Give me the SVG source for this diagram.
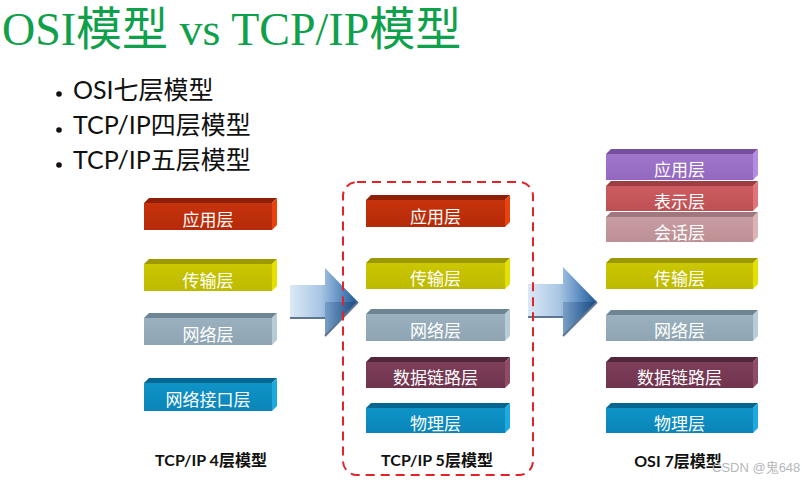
<svg xmlns="http://www.w3.org/2000/svg" width="802" height="482" viewBox="0 0 802 482">
<style>
.title{font-family:"Liberation Serif","Noto Sans CJK SC",serif;font-size:46px;fill:#0fa04c;}
.bul{font-family:"Lato","Noto Sans CJK SC",sans-serif;font-size:25px;fill:#111;}
.dot{fill:#111;}
.lbl{font-family:"Noto Sans CJK SC",sans-serif;font-size:17px;fill:#fff;text-anchor:middle;dominant-baseline:central;}
.cap{font-family:"Lato","Noto Sans CJK SC",sans-serif;font-size:16px;font-weight:bold;fill:#111;text-anchor:middle;}
.wm{font-family:"Liberation Sans","Noto Sans CJK SC",sans-serif;font-size:13px;fill:#b8b8b8;}
.red .f{fill:url(#gRed)} .red .t{fill:#8c1f06} .red .s{fill:#e8420f}
.yel .f{fill:url(#gYel)} .yel .t{fill:#9c9800} .yel .s{fill:#e4e000}
.gry .f{fill:url(#gGry)} .gry .t{fill:#6e8594} .gry .s{fill:#b8ccd8}
.blu .f{fill:url(#gBlu)} .blu .t{fill:#05678f} .blu .s{fill:#1eaade}
.mar .f{fill:url(#gMar)} .mar .t{fill:#52263b} .mar .s{fill:#8e4c68}
.pur .f{fill:url(#gPur)} .pur .t{fill:#76509e} .pur .s{fill:#b48ce0}
.pnk .f{fill:url(#gPnk)} .pnk .t{fill:#9c3e42} .pnk .s{fill:#e07478}
.ros .f{fill:url(#gRos)} .ros .t{fill:#9e787c} .ros .s{fill:#dcb2b6}
.arrow{fill:url(#gArr);}
.lower{fill:url(#gArrD);}
.shade{fill:none;stroke:#5f7690;stroke-width:2;}
.dash{fill:none;stroke:#e0242a;stroke-width:2;stroke-dasharray:9 6;}
</style>
<defs>
<linearGradient id="gRed" x1="0" y1="0" x2="0" y2="1"><stop offset="0" stop-color="#c6330d"/><stop offset="1" stop-color="#b52a08"/></linearGradient>
<linearGradient id="gYel" x1="0" y1="0" x2="0" y2="1"><stop offset="0" stop-color="#cbc700"/><stop offset="1" stop-color="#bdb900"/></linearGradient>
<linearGradient id="gGry" x1="0" y1="0" x2="0" y2="1"><stop offset="0" stop-color="#9cb1bf"/><stop offset="1" stop-color="#8ea4b3"/></linearGradient>
<linearGradient id="gBlu" x1="0" y1="0" x2="0" y2="1"><stop offset="0" stop-color="#0f94c8"/><stop offset="1" stop-color="#0a84b8"/></linearGradient>
<linearGradient id="gMar" x1="0" y1="0" x2="0" y2="1"><stop offset="0" stop-color="#7e3e5a"/><stop offset="1" stop-color="#70334e"/></linearGradient>
<linearGradient id="gPur" x1="0" y1="0" x2="0" y2="1"><stop offset="0" stop-color="#a077cc"/><stop offset="1" stop-color="#9268c0"/></linearGradient>
<linearGradient id="gPnk" x1="0" y1="0" x2="0" y2="1"><stop offset="0" stop-color="#cc5c60"/><stop offset="1" stop-color="#be5054"/></linearGradient>
<linearGradient id="gRos" x1="0" y1="0" x2="0" y2="1"><stop offset="0" stop-color="#c89ca0"/><stop offset="1" stop-color="#bc9094"/></linearGradient>
<linearGradient id="gArr" x1="0" y1="0" x2="1" y2="0"><stop offset="0" stop-color="#dce9f6"/><stop offset="0.45" stop-color="#a9c6e4"/><stop offset="0.75" stop-color="#5c8cc0"/><stop offset="1" stop-color="#1d5594"/></linearGradient>
<linearGradient id="gArrD" x1="0" y1="0" x2="1" y2="0"><stop offset="0" stop-color="#3e6d9e" stop-opacity="0.35"/><stop offset="1" stop-color="#173f70" stop-opacity="0.6"/></linearGradient>
</defs>
<rect width="802" height="482" fill="#fff"/>

<g id="title"><text class="title" x="2" y="45">OSI模型 vs TCP/IP模型</text></g>
<g id="bullets">
<circle class="dot" cx="59" cy="94" r="2.8"/><text class="bul" x="73" y="99">OSI七层模型</text>
<circle class="dot" cx="59" cy="130" r="2.8"/><text class="bul" x="73" y="134">TCP/IP四层模型</text>
<circle class="dot" cx="59" cy="165" r="2.8"/><text class="bul" x="73" y="169">TCP/IP五层模型</text>
</g>

<g id="connectors">
<path class="arrow" d="M290,285 L325,285 L325,268 L358,302 L325,336 L325,318 L290,318 Z"/>
<path class="lower" d="M325,302 L358,302 L325,336 Z"/>
<path class="shade" d="M290,318 L325,318 M325,336 L358,302"/>
<path class="arrow" d="M528,284 L563,284 L563,267 L597,302 L563,336 L563,317 L528,317 Z"/>
<path class="lower" d="M563,302 L597,302 L563,336 Z"/>
<path class="shade" d="M528,317 L563,317 M563,336 L597,302"/>
</g>

<g id="tcp4">
<g id="l-app" class="red"><polygon class="t" points="144,203 149,198 277,198 272,203"/><polygon class="s" points="272,203 277,198 277,225 272,230"/><rect class="f" x="144" y="203" width="128" height="27"/><text class="lbl" x="208" y="218">应用层</text></g>
<g id="l-trans" class="yel"><polygon class="t" points="144,264 149,259 277,259 272,264"/><polygon class="s" points="272,264 277,259 277,286 272,291"/><rect class="f" x="144" y="264" width="128" height="27"/><text class="lbl" x="208" y="279">传输层</text></g>
<g id="l-net" class="gry"><polygon class="t" points="144,318 149,313 277,313 272,318"/><polygon class="s" points="272,318 277,313 277,340 272,345"/><rect class="f" x="144" y="318" width="128" height="27"/><text class="lbl" x="208" y="333">网络层</text></g>
<g id="l-if" class="blu"><polygon class="t" points="144,383 149,378 277,378 272,383"/><polygon class="s" points="272,383 277,378 277,406 272,411"/><rect class="f" x="144" y="383" width="128" height="28"/><text class="lbl" x="208" y="398">网络接口层</text></g>
<text class="cap" x="211" y="466">TCP/IP 4层模型</text>
</g>

<g id="tcp5">
<rect class="dash" x="343" y="182" width="190" height="293" rx="14"/>
<g id="m-app" class="red"><polygon class="t" points="366,200 371,195 510,195 505,200"/><polygon class="s" points="505,200 510,195 510,222 505,227"/><rect class="f" x="366" y="200" width="139" height="27"/><text class="lbl" x="435.5" y="215">应用层</text></g>
<g id="m-trans" class="yel"><polygon class="t" points="366,263 371,258 510,258 505,263"/><polygon class="s" points="505,263 510,258 510,284 505,289"/><rect class="f" x="366" y="263" width="139" height="26"/><text class="lbl" x="435.5" y="277.5">传输层</text></g>
<g id="m-net" class="gry"><polygon class="t" points="366,314 371,309 510,309 505,314"/><polygon class="s" points="505,314 510,309 510,336 505,341"/><rect class="f" x="366" y="314" width="139" height="27"/><text class="lbl" x="435.5" y="329">网络层</text></g>
<g id="m-dl" class="mar"><polygon class="t" points="366,362 371,357 510,357 505,362"/><polygon class="s" points="505,362 510,357 510,383 505,388"/><rect class="f" x="366" y="362" width="139" height="26"/><text class="lbl" x="435.5" y="376.5">数据链路层</text></g>
<g id="m-phy" class="blu"><polygon class="t" points="366,408 371,403 510,403 505,408"/><polygon class="s" points="505,408 510,403 510,428 505,433"/><rect class="f" x="366" y="408" width="139" height="25"/><text class="lbl" x="435.5" y="422">物理层</text></g>
<text class="cap" x="437" y="466">TCP/IP 5层模型</text>
</g>

<g id="osi7">
<g id="r-app" class="pur"><polygon class="t" points="606,154 611,149 758,149 753,154"/><polygon class="s" points="753,154 758,149 758,175 753,180"/><rect class="f" x="606" y="154" width="147" height="26"/><text class="lbl" x="679.5" y="168.5">应用层</text></g>
<g id="r-pres" class="pnk"><polygon class="t" points="606,186 611,181 758,181 753,186"/><polygon class="s" points="753,186 758,181 758,206 753,211"/><rect class="f" x="606" y="186" width="147" height="25"/><text class="lbl" x="679.5" y="200">表示层</text></g>
<g id="r-sess" class="ros"><polygon class="t" points="606,217 611,212 758,212 753,217"/><polygon class="s" points="753,217 758,212 758,237 753,242"/><rect class="f" x="606" y="217" width="147" height="25"/><text class="lbl" x="679.5" y="231">会话层</text></g>
<g id="r-trans" class="yel"><polygon class="t" points="606,263 611,258 758,258 753,263"/><polygon class="s" points="753,263 758,258 758,284 753,289"/><rect class="f" x="606" y="263" width="147" height="26"/><text class="lbl" x="679.5" y="277.5">传输层</text></g>
<g id="r-net" class="gry"><polygon class="t" points="606,315 611,310 758,310 753,315"/><polygon class="s" points="753,315 758,310 758,336 753,341"/><rect class="f" x="606" y="315" width="147" height="26"/><text class="lbl" x="679.5" y="329.5">网络层</text></g>
<g id="r-dl" class="mar"><polygon class="t" points="606,362 611,357 758,357 753,362"/><polygon class="s" points="753,362 758,357 758,383 753,388"/><rect class="f" x="606" y="362" width="147" height="26"/><text class="lbl" x="679.5" y="376.5">数据链路层</text></g>
<g id="r-phy" class="blu"><polygon class="t" points="606,408 611,403 758,403 753,408"/><polygon class="s" points="753,408 758,403 758,428 753,433"/><rect class="f" x="606" y="408" width="147" height="25"/><text class="lbl" x="679.5" y="422">物理层</text></g>
<text class="cap" x="678" y="467">OSI 7层模型</text>
</g>

<text class="wm" x="712" y="472">CSDN @鬼648</text>
</svg>
